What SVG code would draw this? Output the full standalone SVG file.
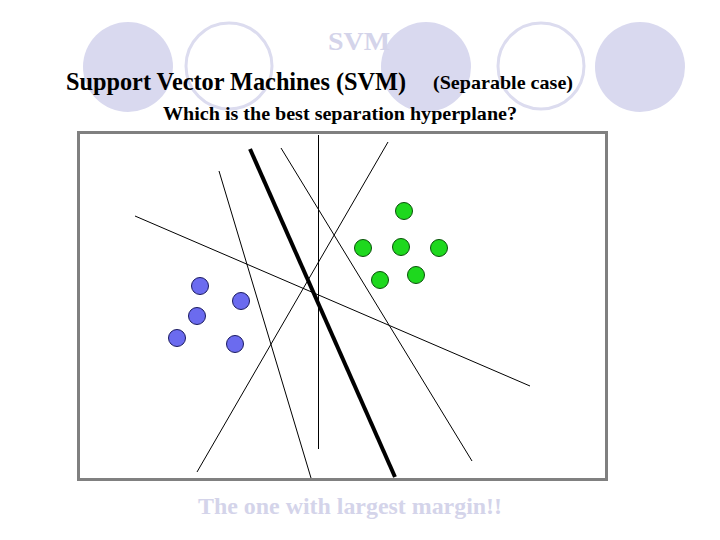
<svg xmlns="http://www.w3.org/2000/svg" width="720" height="540" viewBox="0 0 720 540">
<style>
.bgf{fill:#d9d9ef;stroke:none}
.bgo{fill:none;stroke:#dcdcef;stroke-width:3}
.t{font-family:"Liberation Serif","Times New Roman",serif;font-weight:bold}
.thin{stroke:#000;stroke-width:1;fill:none}
.blue{fill:#6b6bef;stroke:#1a1a60;stroke-width:1}
.green{fill:#1ed81e;stroke:#0a500a;stroke-width:1}
</style>
<rect width="720" height="540" fill="#fff"/>
<g id="background">
<ellipse class="bgf" cx="128" cy="67" rx="45" ry="45"/>
<ellipse class="bgo" cx="229" cy="66" rx="43" ry="43"/>
<ellipse class="bgf" cx="426" cy="67" rx="45" ry="45"/>
<ellipse class="bgo" cx="541" cy="66" rx="43" ry="43"/>
<ellipse class="bgf" cx="640" cy="67" rx="45" ry="45"/>
</g>
<g id="titles">
<text class="t" x="328" y="50" font-size="26" fill="#d4d4ea" textLength="62" lengthAdjust="spacingAndGlyphs">SVM</text>
<text class="t" x="66" y="90" font-size="26" fill="#000" textLength="340" lengthAdjust="spacingAndGlyphs">Support Vector Machines (SVM)</text>
<text class="t" x="433" y="89" font-size="19" fill="#000" textLength="140" lengthAdjust="spacingAndGlyphs">(Separable case)</text>
<text class="t" x="163" y="120" font-size="19" fill="#000" textLength="354" lengthAdjust="spacingAndGlyphs">Which is the best separation hyperplane?</text>
<text class="t" x="198" y="514" font-size="24" fill="#d4d4ea" textLength="304" lengthAdjust="spacingAndGlyphs">The one with largest margin!!</text>
</g>
<g id="frame">
<rect x="78.5" y="132.5" width="528" height="347" fill="#fff" stroke="#808080" stroke-width="3"/>
</g>
<g id="connectors">
<line class="thin" x1="318.5" y1="135" x2="318.5" y2="449"/>
<line class="thin" x1="281" y1="148" x2="472" y2="461"/>
<line class="thin" x1="388" y1="142" x2="197" y2="472"/>
<line class="thin" x1="219" y1="171" x2="311" y2="478"/>
<line class="thin" x1="135" y1="216" x2="530" y2="386"/>
<line x1="250" y1="149" x2="395" y2="477" stroke="#000" stroke-width="4"/>
</g>
<g id="class-blue">
<circle class="blue" cx="200" cy="286" r="8.5"/>
<circle class="blue" cx="241" cy="301" r="8.5"/>
<circle class="blue" cx="197" cy="316" r="8.5"/>
<circle class="blue" cx="177" cy="338" r="8.5"/>
<circle class="blue" cx="235" cy="344" r="8.5"/>
</g>
<g id="class-green">
<circle class="green" cx="404" cy="211" r="8.5"/>
<circle class="green" cx="363" cy="248" r="8.5"/>
<circle class="green" cx="401" cy="247" r="8.5"/>
<circle class="green" cx="439" cy="248" r="8.5"/>
<circle class="green" cx="380" cy="280" r="8.5"/>
<circle class="green" cx="416" cy="275" r="8.5"/>
</g>
</svg>
